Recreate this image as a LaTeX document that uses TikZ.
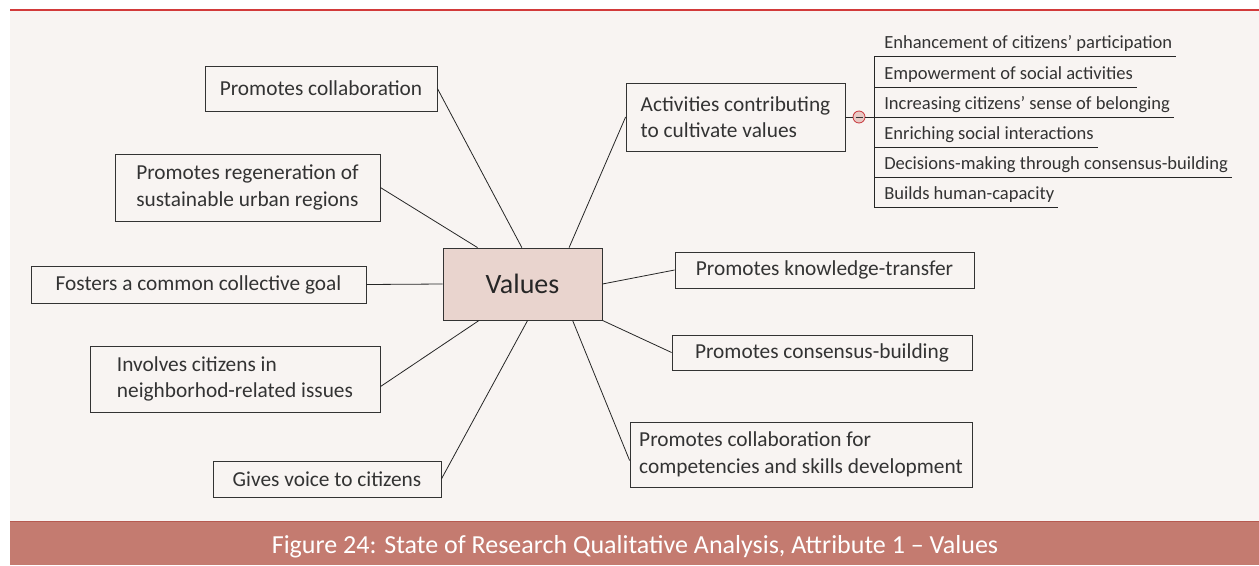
\documentclass[tikz,border=0pt]{standalone}
\usepackage{fontspec}
\setmainfont{Carlito}
\usetikzlibrary{shadows}

\definecolor{pagebg}{HTML}{F8F4F2}
\definecolor{centrefill}{HTML}{E9D4CE}
\definecolor{toplinecol}{HTML}{D23A3A}
\definecolor{capfill}{HTML}{C47B70}
\definecolor{capline}{HTML}{B65A50}
\definecolor{togfill}{HTML}{E8C9C5}
\definecolor{togdraw}{HTML}{C8343A}
\definecolor{inkgray}{HTML}{333333}

\begin{document}
\begin{tikzpicture}[x=0.75pt, y=-0.75pt]

\tikzstyle{box}=[draw=inkgray, fill=pagebg, line width=0.6pt, align=left, text=inkgray,
  font=\fontsize{16}{20}\selectfont, inner sep=0pt,
  drop shadow={shadow xshift=0.6pt, shadow yshift=-0.6pt, opacity=0.35, fill=black}]
\tikzstyle{item}=[anchor=base west, text=inkgray, font=\fontsize{13.9}{16}\selectfont, inner xsep=3pt, inner ysep=0pt]
\tikzstyle{link}=[draw=black!85, line width=0.6pt]

\useasboundingbox (0,0) rectangle (1259,565);
\fill[pagebg] (10,10) rectangle (1259,521);
\draw[toplinecol, line width=0.8pt] (10,10) -- (1259,10);

% centre
\node[box, fill=centrefill, minimum width=159*0.75pt, minimum height=72*0.75pt, font=\fontsize{21}{24}\selectfont, text=black!85] (val) at (522.5,284) {Values};

% left side
\node[box, minimum width=232*0.75pt, minimum height=45*0.75pt] (collab) at (321,88.5) {Promotes collaboration};
\node[box, minimum width=265*0.75pt, minimum height=67*0.75pt] (regen) at (247.5,187.5) {Promotes regeneration of\\sustainable urban regions};
\node[box, minimum width=335*0.75pt, minimum height=37*0.75pt] (goal) at (198.5,284.5) {Fosters a common collective goal};
\node[box, minimum width=290*0.75pt, minimum height=66*0.75pt] (invol) at (235,379) {Involves citizens in\\neighborhod-related issues};
\node[box, minimum width=228*0.75pt, minimum height=36*0.75pt] (voice) at (327,479) {Gives voice to citizens};

% right side
\node[box, minimum width=219*0.75pt, minimum height=68*0.75pt] (activ) at (735.5,117) {Activities contributing\\to cultivate values};
\node[box, minimum width=299*0.75pt, minimum height=36*0.75pt] (knowl) at (824.5,270) {Promotes knowledge-transfer};
\node[box, minimum width=300*0.75pt, minimum height=35*0.75pt] (consens) at (822,352.5) {Promotes consensus-building};
\node[box, minimum width=342*0.75pt, minimum height=65*0.75pt] (compet) at (801,454.5) {Promotes collaboration for\\competencies and skills development};

\draw[link] (collab.east) -- (val.91);
\draw[link] (regen.east) -- (val.141);
\draw[link] (goal.east) -- (val.west);
\draw[link] (invol.-3) -- (val.220);
\draw[link] (voice.east) -- (val.278);
\draw[link] (activ.west) -- (val.38);
\draw[link] (knowl.west) -- (val.east);
\draw[link] (consens.west) -- (val.south east);
\draw[link] (compet.182) -- (val.324);

% sub list of activities
\foreach \txt/\yy/\i in {Enhancement of citizens’ participation/56/1,
    Empowerment of social activities/87/2,
    Increasing citizens’ sense of belonging/117/3,
    Enriching social interactions/147/4,
    Decisions-making through consensus-building/177/5,
    Builds human-capacity/207/6}{
  \coordinate (b\i) at (874,\yy);
  \node[item] (sub\i) at (880,\yy-8) {\txt};
  \draw[link] (b\i) -- (b\i -| sub\i.east);
}
\draw[link] (b1) -- (b6);
\node[circle, draw=togdraw, fill=togfill, line width=0.6pt, minimum size=12*0.75pt, inner sep=0pt] (tog) at (859,117) {};
\draw[link] (activ.east) -- (tog.west);
\draw[link] (tog.east) -- (b3);
\draw[inkgray, line width=0.6pt] (855.5,117) -- (862.5,117);

% caption
\fill[capfill] (10,521) rectangle (1259,565);
\draw[capline, line width=1.2pt] (10,521.5) -- (1259,521.5);
\node[text=white, font=\fontsize{19.5}{22}\selectfont] (cap) at (635,547) {Figure 24: State of Research Qualitative Analysis, Attribute 1 – Values};

\end{tikzpicture}
\end{document}
